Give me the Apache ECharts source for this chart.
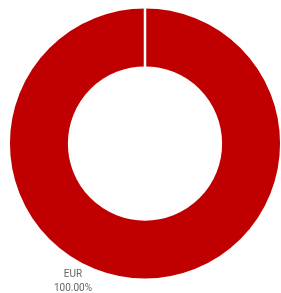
<!DOCTYPE html>
<html>
<head>
<meta charset="utf-8">
<style>
  html, body { margin: 0; padding: 0; background: #fff; }
  #main { width: 281px; height: 293px; }
</style>
<script src="https://cdn.jsdelivr.net/npm/echarts@6/dist/echarts.min.js"></script>
</head>
<body>
<div id="main"></div>
<script>
var currencies = ['EUR']
var shares = [100]
var colors = ['#c00000']

var pieData = currencies.map(function (c, i) { return { name: c, value: shares[i] } })
// zero-width slice so the white seam shows at 12 o'clock
pieData.push({ name: '', value: 0, label: { show: false } })

var chart = echarts.init(document.getElementById('main'))
chart.setOption({
  animation: false,
  color: colors,
  series: [{
    type: 'pie',
    center: ['51.6%', '49%'],
    radius: ['54%', '97%'],
    startAngle: 90,
    itemStyle: { borderColor: '#fff', borderWidth: 2.5 },
    label: {
      show: true,
      position: 'outside',
      formatter: function (p) { return p.name + '\n' + p.value.toFixed(2) + '%' },
      color: '#666',
      fontSize: 10,
      lineHeight: 14,
      fontFamily: 'Roboto',
      align: 'center'
    },
    labelLine: { show: false },
    labelLayout: function (p) {
      return { x: 73, y: 281, align: 'center', verticalAlign: 'middle' }
    },
    data: pieData
  }]
})
</script>
</body>
</html>
